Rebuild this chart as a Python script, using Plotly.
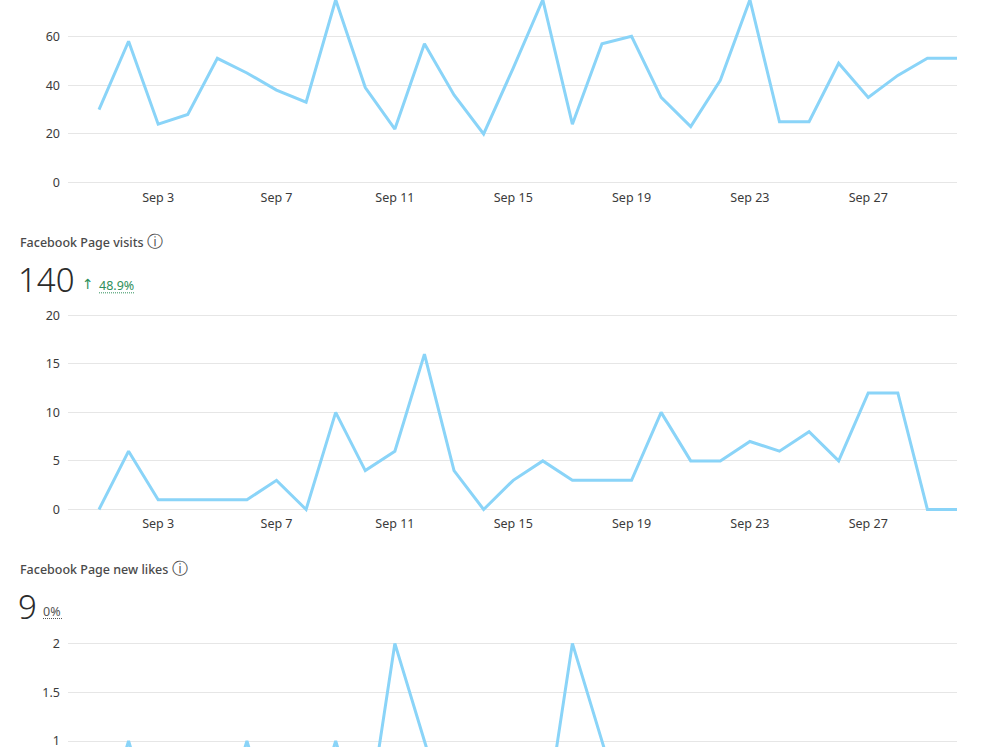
import pandas as pd
import plotly.graph_objects as go

# ---------------- data ----------------
dates = pd.date_range("2024-09-01", "2024-09-30", freq="D")
reach = [30, 58, 24, 28, 51, 45, 38, 33, 75, 39, 22, 57, 36, 20, 47, 75,
         24, 57, 60, 35, 23, 42, 75, 25, 25, 49, 35, 44, 51, 51]
visits = [0, 6, 1, 1, 1, 1, 3, 0, 10, 4, 6, 16, 4, 0, 3, 5,
          3, 3, 3, 10, 5, 5, 7, 6, 8, 5, 12, 12, 0, 0]
new_likes = [0, 1, 0, 0, 0, 1, 0, 0, 1, 0, 2, 1, 0, 0, 0, 0,
             2, 1, 0, 0, 0, 0, 0, 0, 0, 0, 0, 0, 0, 0]
tick_dates = ["2024-09-03", "2024-09-07", "2024-09-11", "2024-09-15",
              "2024-09-19", "2024-09-23", "2024-09-27"]
tick_text = ["Sep 3", "Sep 7", "Sep 11", "Sep 15", "Sep 19", "Sep 23", "Sep 27"]

visits_title = "Facebook Page visits"
visits_total = "140"
visits_change = "48.9%"
likes_title = "Facebook Page new likes"
likes_total = "9"
likes_change = "0%"

# ---------------- layout helpers ----------------
W, H = 1000, 750
ML, MR = 68, 43
PW = W - ML - MR
LINE = "#8AD4F8"
GRID = "#e6e6e6"
TXT = "#3b3b3b"
GREEN = "#2f8f5b"
FONT = "Noto Sans"


def px_x(p):
    return (p - ML) / PW


def px_y(p):
    return 1 - p / H


def yrange(top_px, bot_px, zero_px, px_per_unit):
    return [(zero_px - bot_px) / px_per_unit, (zero_px - top_px) / px_per_unit]


# panels: (top px, bottom px, zero px, px per unit)
panels = [
    (0, 189, 183.5, 2.45),
    (308, 517, 511.5, 9.75),
    (636, 750, 842, 98.0),
]
series = [reach, visits, new_likes]
dticks = [20, 5, 0.5]

x0 = dates[0] - pd.Timedelta(days=(99 - ML) / ((957 - 99) / 29))
x1 = dates[-1]

fig = go.Figure()
for i, (vals, (top, bot, zero, ppu)) in enumerate(zip(series, panels)):
    n = "" if i == 0 else str(i + 1)
    fig.add_trace(go.Scatter(
        x=dates, y=vals, mode="lines",
        line=dict(color=LINE, width=3),
        xaxis="x" + n, yaxis="y" + n, hoverinfo="skip", showlegend=False,
    ))
    fig.update_layout(**{
        "xaxis" + n: dict(
            domain=[0, 1], anchor="y" + n, range=[x0, x1], type="date",
            tickvals=tick_dates, ticktext=tick_text, showgrid=False,
            zeroline=False, showline=False, showticklabels=(i < 2),
            tickfont=dict(family=FONT, size=12.5, color=TXT),
            fixedrange=True,
        ),
        "yaxis" + n: dict(
            domain=[px_y(bot), px_y(top)], anchor="x" + n,
            range=yrange(top, bot, zero, ppu), dtick=dticks[i], tick0=0,
            showgrid=True, gridcolor=GRID, gridwidth=1, zeroline=False,
            showline=False, ticklabelstandoff=7,
            tickfont=dict(family=FONT, size=12.5, color=TXT),
            fixedrange=True,
        ),
    })

ann = []


def add_text(text, xp, yp, size, color, xanchor="left", weight=None, family=FONT):
    f = dict(family=family, size=size, color=color)
    if weight:
        f["weight"] = weight
    ann.append(dict(text=text, x=px_x(xp), y=px_y(yp), xref="paper", yref="paper",
                    xanchor=xanchor, yanchor="middle", showarrow=False, font=f))


info = " <span style='font-size:16px;font-weight:300'>ⓘ</span>"
add_text(visits_title + info, 18, 242, 12.5, "#4a4a4a", weight=500)
add_text(visits_total, 16, 281, 33, "#2b2b2b", weight=300)
add_text("↑", 80, 285, 14, GREEN, family="DejaVu Sans")
add_text(visits_change, 97, 287, 12.5, GREEN)
add_text(likes_title + info, 18, 570, 12.5, "#4a4a4a", weight=500)
add_text(likes_total, 16, 609, 33, "#2b2b2b", weight=300)
add_text(likes_change, 41, 614, 12.5, "#555555")

shapes = [
    dict(type="line", xref="paper", yref="paper", x0=px_x(99), x1=px_x(135),
         y0=px_y(294), y1=px_y(294), line=dict(color=GREEN, width=1, dash="1px,1px")),
    dict(type="line", xref="paper", yref="paper", x0=px_x(43), x1=px_x(62),
         y0=px_y(621), y1=px_y(621), line=dict(color="#555555", width=1, dash="1px,1px")),
]

fig.update_layout(
    width=W, height=H, margin=dict(l=ML, r=MR, t=0, b=0),
    paper_bgcolor="white", plot_bgcolor="white",
    annotations=ann, shapes=shapes, showlegend=False,
    font=dict(family=FONT, color=TXT),
)
fig.write_html("out.html", config={"displayModeBar": False})
